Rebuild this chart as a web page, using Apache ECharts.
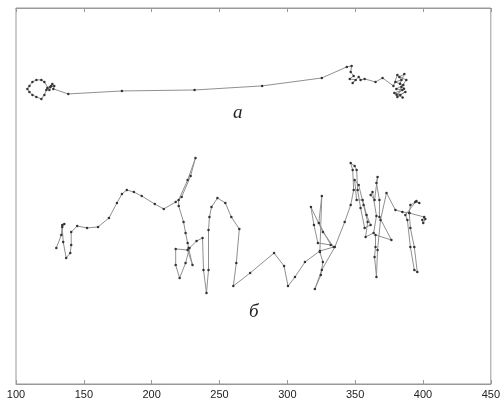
<!DOCTYPE html>
<html>
<head>
<meta charset="utf-8">
<script src="https://cdn.jsdelivr.net/npm/echarts@6/dist/echarts.min.js"></script>
<style>
  html, body {margin: 0; padding: 0; background: #fff;}
  #chart {width: 503px; height: 400px;}
</style>
</head>
<body>
<div id="chart"></div>
<script>
// траектория а (x, y)
const track_a = [
    [126.0, 218.5], [123.1, 217.0], [126.8, 219.9], [124.6, 215.5], [120.9, 221.4],
    [118.7, 222.9], [115.0, 222.9], [112.1, 221.4], [109.9, 218.5], [108.4, 216.3],
    [109.9, 214.1], [112.1, 211.9], [115.0, 210.4], [118.7, 208.9], [120.9, 211.9],
    [122.4, 215.5], [125.3, 217.7], [128.2, 218.5], [127.5, 216.3], [138.5, 212.6],
    [178.1, 214.8], [231.6, 215.5], [281.4, 218.5], [325.4, 224.3], [343.8, 232.4],
    [347.4, 233.1], [346.7, 228.7], [348.9, 225.8], [346.0, 223.6], [350.4, 222.9],
    [348.2, 220.7], [352.6, 225.1], [354.0, 222.9], [357.0, 223.6], [365.0, 221.4],
    [370.2, 224.3], [378.2, 218.5], [381.1, 226.5], [384.1, 222.9], [379.7, 221.4],
    [385.5, 219.2], [380.4, 216.3], [384.8, 215.5], [378.9, 213.3], [383.3, 211.9],
    [387.0, 214.1], [381.1, 210.4], [384.1, 217.7], [387.7, 222.9], [382.6, 225.1],
    [386.3, 227.3], [383.0, 220.0], [386.0, 216.5], [380.5, 212.0], [385.0, 210.0]
];

// траектория б (x, y)
const track_b = [
    [129.7, 99.7], [133.4, 109.2], [134.1, 116.6], [135.6, 117.3], [134.1, 115.1],
    [134.8, 104.1], [137.0, 92.4], [140.0, 96.0], [140.7, 101.9], [140.7, 111.4],
    [145.1, 115.8], [152.4, 114.4], [160.5, 115.1], [168.5, 121.7], [174.4, 132.7],
    [178.1, 139.3], [181.7, 142.2], [186.9, 140.7], [192.7, 137.8], [202.3, 131.9],
    [208.9, 128.3], [217.7, 133.4], [222.1, 137.1], [228.7, 152.5], [232.3, 165.7],
    [226.5, 149.5], [219.9, 134.9], [219.9, 130.5], [223.5, 118.8], [225.0, 110.7],
    [226.5, 103.4], [227.2, 99.7], [230.1, 87.2], [226.5, 98.2], [217.7, 99.0],
    [217.7, 87.2], [220.6, 77.7], [225.0, 88.7], [227.9, 99.7], [233.1, 104.8],
    [237.5, 107.0], [238.2, 83.6], [240.4, 66.7], [241.9, 83.6], [241.9, 112.9],
    [242.6, 122.4], [244.1, 129.7], [248.5, 136.3], [254.3, 132.7], [258.7, 122.4],
    [264.6, 113.6], [262.4, 88.7], [260.2, 71.8], [272.6, 81.4], [290.2, 96.0],
    [297.6, 86.5], [300.5, 71.8], [305.6, 78.4], [313.0, 89.4], [324.0, 97.5],
    [334.2, 100.4], [326.2, 111.4], [317.4, 129.7], [319.6, 116.6], [322.5, 103.4],
    [332.0, 101.9], [323.2, 118.0], [325.4, 137.8], [324.0, 96.8], [326.2, 89.4],
    [324.7, 79.9], [320.3, 69.6], [325.4, 83.6], [335.0, 100.4], [342.3, 118.8],
    [346.7, 131.2], [348.9, 142.2], [348.2, 156.9], [346.7, 162.0], [349.6, 159.8],
    [351.1, 156.9], [351.8, 142.2], [354.0, 129.0], [357.0, 114.4], [361.4, 116.6],
    [358.4, 123.9], [355.5, 134.9], [351.1, 134.9], [349.6, 149.5], [352.6, 145.9],
    [356.2, 131.2], [359.2, 118.8], [357.7, 107.8], [363.6, 110.7], [365.7, 123.2],
    [362.8, 140.7], [361.4, 138.5], [364.3, 134.9], [366.5, 151.7], [365.7, 147.3],
    [367.9, 134.9], [367.9, 122.4], [376.7, 105.6], [365.0, 109.2], [365.0, 100.4],
    [364.3, 93.1], [365.7, 78.4], [366.5, 98.2], [368.7, 120.2], [373.1, 140.0],
    [379.7, 127.5], [384.8, 126.1], [389.9, 125.3], [390.7, 131.2], [394.3, 133.4],
    [397.3, 132.7], [395.1, 134.1], [387.0, 123.9], [388.5, 120.2], [390.7, 100.4],
    [393.6, 83.6], [395.8, 82.1], [393.6, 100.4], [390.7, 114.4], [389.9, 125.3],
    [400.9, 122.4], [399.5, 120.2], [400.2, 118.0], [401.7, 121.0]
];

const x_ticks = [100, 150, 200, 250, 300, 350, 400, 450];

function build_track_series(name, data) {
    return {
        name: name,
        type: 'line',
        data: data,
        symbol: 'circle',
        symbolSize: 2.5,
        lineStyle: {color: '#909090', width: 1},
        itemStyle: {color: '#333'},
        animation: false,
        z: 3
    };
}

let chart = echarts.init(document.getElementById('chart'), null, {renderer: 'canvas'});
let option = {
    backgroundColor: '#fff',
    animation: false,
    grid: {left: 16, right: 9, top: 8, bottom: 16, show: true, borderColor: '#999', borderWidth: 1},
    xAxis: [{
        type: 'value', min: x_ticks[0], max: x_ticks[x_ticks.length - 1], interval: 50,
        axisLine: {show: true, lineStyle: {color: '#999'}},
        axisTick: {show: true, inside: true, length: 4, lineStyle: {color: '#999'}},
        axisLabel: {color: '#222', fontSize: 11, fontFamily: 'Liberation Sans', margin: 5},
        splitLine: {show: false}
    }, {
        type: 'value', position: 'top', min: x_ticks[0], max: x_ticks[x_ticks.length - 1], interval: 50,
        axisLine: {show: true, lineStyle: {color: '#999'}},
        axisTick: {show: true, inside: true, length: 4, lineStyle: {color: '#999'}},
        axisLabel: {show: false},
        splitLine: {show: false}
    }],
    yAxis: {
        type: 'value', min: 0, max: 275.6,
        axisLine: {show: false}, axisTick: {show: false},
        axisLabel: {show: false}, splitLine: {show: false}
    },
    series: [build_track_series('а', track_a), build_track_series('б', track_b)],
    graphic: [
        {type: 'text', left: 233, top: 103, style: {text: 'a', font: 'italic 19px "Liberation Serif"', fill: '#222'}},
        {type: 'text', left: 249, top: 302, style: {text: 'б', font: 'italic 19px "Liberation Serif"', fill: '#222'}}
    ]
};
chart.setOption(option);
window.addEventListener('resize', function () {
    chart.resize();
});
</script>
</body>
</html>
